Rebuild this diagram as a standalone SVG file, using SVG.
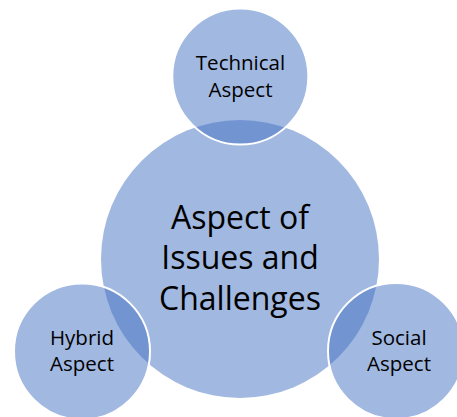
<svg xmlns="http://www.w3.org/2000/svg" width="457" height="417" viewBox="0 0 457 417">
<style>
.c{fill:#4472C4;fill-opacity:0.5}
.s{stroke:#FFFFFF;stroke-width:2}
text{font-family:"Open Sans","Liberation Sans",sans-serif;fill:#000000;text-anchor:middle}
.sm{font-size:20.5px}
.lg{font-size:32px}
</style>
<rect width="457" height="417" fill="#FFFFFF"/>
<g id="connectors"></g>
<g id="center">
<circle class="c" cx="240" cy="259" r="139"/>
<text class="lg" x="240" y="229">Aspect of</text>
<text class="lg" x="240" y="269">Issues and</text>
<text class="lg" x="240" y="310">Challenges</text>
</g>
<g id="technical">
<circle class="c s" cx="240.3" cy="76.5" r="68"/>
<text class="sm" x="240.5" y="70">Technical</text>
<text class="sm" x="240.5" y="97">Aspect</text>
</g>
<g id="hybrid">
<circle class="c s" cx="82" cy="351.5" r="68"/>
<text class="sm" x="82" y="345">Hybrid</text>
<text class="sm" x="82" y="371">Aspect</text>
</g>
<g id="social">
<circle class="c s" cx="396" cy="351" r="68"/>
<text class="sm" x="399" y="345">Social</text>
<text class="sm" x="399" y="371">Aspect</text>
</g>
</svg>
